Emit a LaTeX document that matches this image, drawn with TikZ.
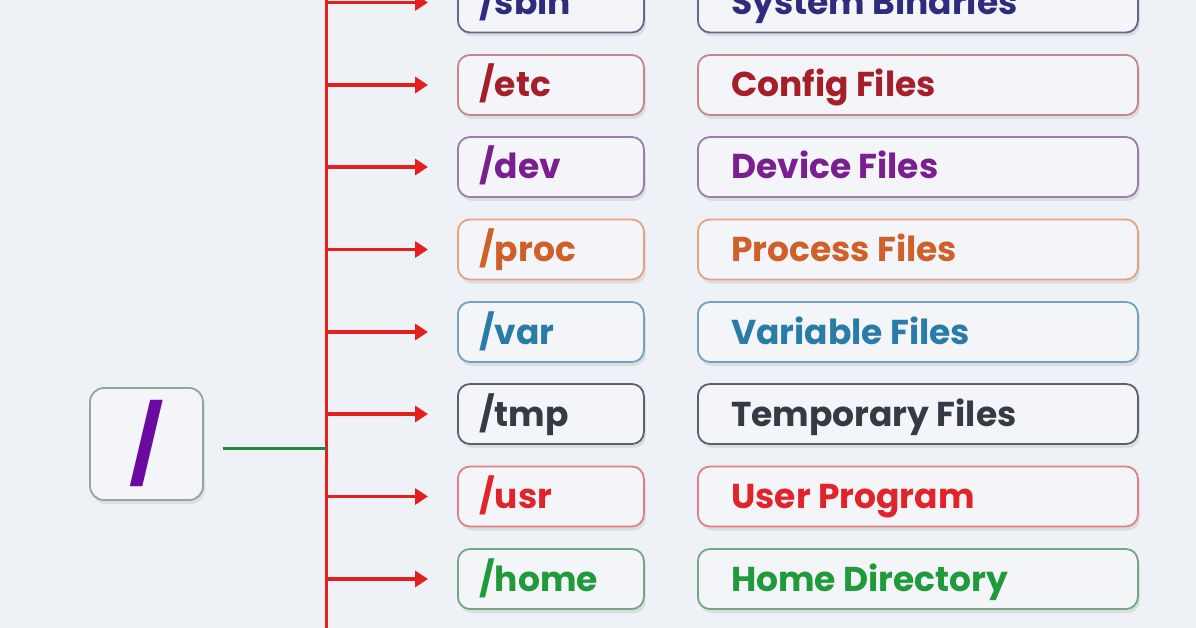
\documentclass[tikz,border=0pt]{standalone}
\usepackage{fontspec}
\setmainfont{Poppins}
\usetikzlibrary{arrows.meta,shadows}
\definecolor{bg}{HTML}{EEF1F5}
\definecolor{boxfill}{HTML}{F3F5F8}
\definecolor{trunk}{HTML}{E3201E}
\definecolor{stem}{HTML}{1E8A3C}
\definecolor{cSbin}{HTML}{2E2C7E}\definecolor{bSbin}{HTML}{66668F}
\definecolor{cEtc}{HTML}{A51E28}\definecolor{bEtc}{HTML}{C8868C}
\definecolor{cDev}{HTML}{7A1E90}\definecolor{bDev}{HTML}{9C7CAA}
\definecolor{cProc}{HTML}{D0602A}\definecolor{bProc}{HTML}{E9A07E}
\definecolor{cVar}{HTML}{2A7CA8}\definecolor{bVar}{HTML}{72A2C0}
\definecolor{cTmp}{HTML}{353A44}\definecolor{bTmp}{HTML}{5C616A}
\definecolor{cUsr}{HTML}{E0242A}\definecolor{bUsr}{HTML}{E08084}
\definecolor{cHome}{HTML}{219A3C}\definecolor{bHome}{HTML}{72A882}
\definecolor{cRoot}{HTML}{6A0AA0}\definecolor{bRoot}{HTML}{8FA89A}
\tikzset{
  basebox/.style={draw, line width=1.8pt, rounded corners=12pt, fill=boxfill,
    anchor=west, minimum height=60pt, inner sep=0pt,
    drop shadow={shadow xshift=2pt, shadow yshift=-4pt, opacity=0.08, fill=black}},
  dirbox/.style={basebox, minimum width=186pt},
  descbox/.style={basebox, minimum width=440pt},
  boxtext/.style={anchor=base west, inner sep=0pt, font=\bfseries\fontsize{34.5}{38}\selectfont},
  branch/.style={draw=trunk, line width=3.5pt, -{Triangle[length=13pt,width=16pt]}, shorten >=29pt},
}
\begin{document}
\begin{tikzpicture}[x=1pt,y=-1pt]
\fill[bg] (0,0) rectangle (1196,628);
\useasboundingbox (0,0) rectangle (1196,628);
% root
\node[draw=bRoot, line width=1.8pt, rounded corners=14pt, fill=boxfill,
  minimum width=113pt, minimum height=112pt, inner sep=0pt,
  drop shadow={shadow xshift=2pt, shadow yshift=-4pt, opacity=0.08, fill=black},
  text=cRoot, font=\bfseries\fontsize{76}{76}\selectfont] (root) at (146.5,444) {/};
% trunk
\coordinate (ttop) at (326,0);
\coordinate (tbot) at (326,628);
\coordinate (junc) at (326,448);
\draw[trunk, line width=3pt] (ttop) -- (tbot);
\draw[stem, line width=3pt, shorten <=19pt] (root.east |- junc) -- (junc);
% rows
\foreach \y/\t/\c/\b/\n in {
  2.5/System Binaries/cSbin/bSbin/sbin,
  85/Config Files/cEtc/bEtc/etc,
  167/Device Files/cDev/bDev/dev,
  249.5/Process Files/cProc/bProc/proc,
  332/Variable Files/cVar/bVar/var,
  414/Temporary Files/cTmp/bTmp/tmp,
  496.5/User Program/cUsr/bUsr/usr,
  579/Home Directory/cHome/bHome/home}{
  \node[dirbox, draw=\b] (d\n) at (457,\y) {};
  \node[descbox, draw=\b] (x\n) at (697,\y) {};
  \node[boxtext, text=\c] (dl\n) at ([xshift=22pt,yshift=-12pt]d\n.west) {/\n};
  \node[boxtext, text=\c] (xl\n) at ([xshift=34pt,yshift=-12pt]x\n.west) {\t};
  \coordinate (t\n) at (326,\y);
  \draw[branch] (t\n) -- (d\n.west);
}
\end{tikzpicture}
\end{document}
